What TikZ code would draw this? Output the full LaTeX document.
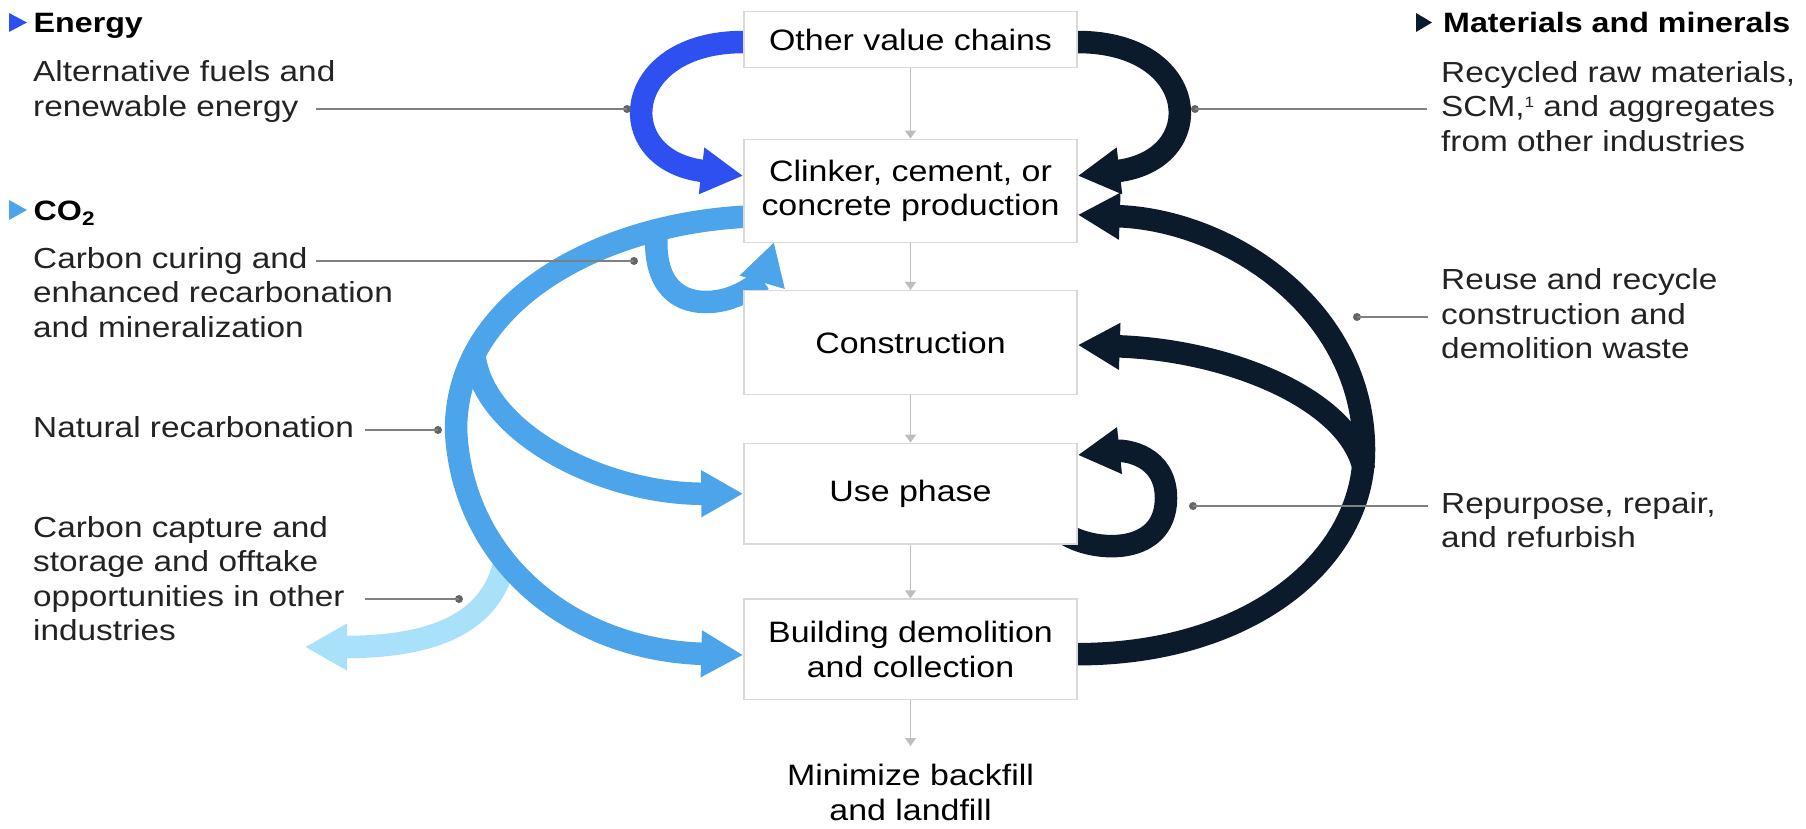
\documentclass[tikz,border=0pt]{standalone}
\usepackage{fontspec}
\setmainfont[FakeStretch=1.15]{Liberation Sans}
\usetikzlibrary{arrows.meta,backgrounds}
\definecolor{cEnergy}{RGB}{47,80,240}
\definecolor{cCO}{RGB}{76,164,234}
\definecolor{cCCS}{RGB}{170,225,250}
\definecolor{cNavy}{RGB}{12,27,43}
\definecolor{cBox}{RGB}{217,217,217}
\definecolor{cFlow}{RGB}{190,190,190}
\definecolor{cLead}{RGB}{128,128,128}
\definecolor{cDot}{RGB}{100,100,100}
\definecolor{cText}{RGB}{35,35,35}
\newcommand\mystrut{\rule{0pt}{22pt}}
\newcommand\lblfont{\fontsize{29}{34.5}\selectfont\color{cText}}
\newcommand\stagefont{\fontsize{29.5}{34.5}\selectfont}
\newcommand\ttlfont{\fontsize{28}{32}\selectfont\bfseries}
\newcommand\smallsup[1]{\raisebox{9pt}{\fontsize{15}{15}\selectfont #1}}
\begin{document}
\begin{tikzpicture}[x=1pt,y=-1pt,
  stage/.style={draw=cBox, line width=1.5pt, fill=white, minimum width=333pt, inner sep=0pt, align=center, font=\stagefont},
  flow/.style={draw=cFlow, line width=1.5pt, -{Triangle[length=8pt,width=11pt]}},
  band/.style={line width=22.5pt},
  bhead/.style={-{Triangle[length=42pt,width=44pt]}},
  leader/.style={draw=cLead, line width=1.5pt},
  ldot/.style={circle, fill=cDot, inner sep=0pt, minimum size=8pt},
  lbl/.style={anchor=north west, inner sep=0pt, align=left, font=\lblfont},
  ttl/.style={anchor=base west, inner sep=0pt, font=\ttlfont}]
\useasboundingbox (0,0) rectangle (1806,828);

% stages
\node[stage, minimum height=55.6pt] (ovc) at (910.5,39.5) {Other value chains};
\node[stage, minimum height=103pt] (clk) at (910.5,190.8) {Clinker, cement, or\\concrete production};
\node[stage, minimum height=103.6pt] (con) at (910.5,342.5) {Construction};
\node[stage, minimum height=100.7pt] (use) at (910.5,493.7) {Use phase};
\node[stage, minimum height=100.3pt] (bdc) at (910.5,649.2) {Building demolition\\and collection};
\node[anchor=north, inner sep=0pt, align=center, font=\stagefont] (min) at (910.5,763.5) {\mystrut Minimize backfill\\and landfill};
\coordinate (mtop) at (910.5,746);

\draw[flow] (ovc.south) -- (clk.north);
\draw[flow] (clk.south) -- (con.north);
\draw[flow] (con.south) -- (use.north);
\draw[flow] (use.south) -- (bdc.north);
\draw[flow] (bdc.south) -- (mtop);

\begin{pgfonlayer}{background}
% CCS light arrow
\draw[band, bhead, cCCS] (505,560) .. controls (492,625) and (430,647) .. (305,647);
% big CO2 arc
\draw[band, bhead, cCO] ([xshift=12pt,yshift=-26pt]clk.west) -- ([yshift=-26pt]clk.west)
   .. controls (600,225) and (456,300) .. (456,430)
   .. controls (462,560) and (570,650) .. ([yshift=-5.8pt]bdc.west);
% branch to use phase
\draw[band, bhead, cCO] (474,350) .. controls (478,430) and (600,494) .. (use.west);
% carbon curing curl
\draw[band, bhead, cCO] (657,228) .. controls (652,278) and (672,302) .. (706,302)
   .. controls (742,302) and (764,276) .. (774,242);
% energy
\draw[band, bhead, cEnergy] ([xshift=12pt,yshift=-2.5pt]ovc.west) -- ([yshift=-2.5pt]ovc.west)
   .. controls (620,42) and (610,160) .. ([yshift=15pt]clk.west);
% materials
\draw[band, bhead, cNavy] ([xshift=-12pt,yshift=-2.5pt]ovc.east) -- ([yshift=-2.5pt]ovc.east)
   .. controls (1201,42) and (1211,160) .. ([yshift=15pt]clk.east);
% big dark arc
\draw[band, bhead, cNavy] ([xshift=-12pt,yshift=-5pt]bdc.east) -- ([yshift=-5pt]bdc.east)
   .. controls (1250,654) and (1364,560) .. (1364,450)
   .. controls (1364,310) and (1230,220) .. ([yshift=-24pt]clk.east);
% branch to construction
\draw[band, bhead, cNavy] (1364,470) .. controls (1350,400) and (1230,350) .. ([yshift=-2.5pt]con.east);
% repurpose loop
\draw[band, bhead, cNavy] (1060,530) .. controls (1085,552) and (1166,560) .. (1166,498)
   .. controls (1166,455) and (1125,450) .. ([yshift=38.7pt]use.east);
\end{pgfonlayer}

% titles
\fill[cEnergy] (9,13) -- (9,32) -- (27,22.5) -- cycle;
\node[ttl] (tEnergy) at (33.5,32) {Energy};
\fill[cCO] (9,200) -- (9,220) -- (27,210) -- cycle;
\node[ttl] (tCO) at (33.5,220) {CO\textsubscript{2}};
\fill[cNavy] (1416,13) -- (1416,32) -- (1432,22.5) -- cycle;
\node[ttl] (tMat) at (1443,32) {Materials and minerals};

% labels
\node[lbl] (lEnergy) at (33,59.5) {\mystrut Alternative fuels and\\renewable energy};
\node[lbl] (lCuring) at (33,246) {\mystrut Carbon curing and\\enhanced recarbonation\\and mineralization};
\node[lbl] (lNatural) at (33,415) {\mystrut Natural recarbonation};
\node[lbl] (lCCS) at (33,515) {\mystrut Carbon capture and\\storage and offtake\\opportunities in other\\industries};
\node[lbl] (lRecycled) at (1441,60) {\mystrut Recycled raw materials,\\SCM,\smallsup{1} and aggregates\\from other industries};
\node[lbl] (lReuse) at (1441,267.5) {\mystrut Reuse and recycle\\construction and\\demolition waste};
\node[lbl] (lRepurpose) at (1441,491) {\mystrut Repurpose, repair,\\and refurbish};

% leaders
\node[ldot] (dEnergy) at (627,109) {};
\node[ldot] (dMat) at (1195,109) {};
\node[ldot] (dCuring) at (634,261) {};
\node[ldot] (dNatural) at (438,430) {};
\node[ldot] (dCCS) at (459,599) {};
\node[ldot] (dReuse) at (1357,317) {};
\node[ldot] (dRepurpose) at (1193,506) {};
\coordinate (eEnergy) at (316,109);
\coordinate (eCuring) at (316,261);
\coordinate (eNatural) at (365,430);
\coordinate (eCCS) at (365,599);
\coordinate (eMat) at (1427,109);
\coordinate (eReuse) at (1428,317);
\coordinate (eRepurpose) at (1428,506);
\draw[leader] (eEnergy) -- (dEnergy.center);
\draw[leader] (eCuring) -- (dCuring.center);
\draw[leader] (eNatural) -- (dNatural.center);
\draw[leader] (eCCS) -- (dCCS.center);
\draw[leader] (eMat) -- (dMat.center);
\draw[leader] (eReuse) -- (dReuse.center);
\draw[leader] (eRepurpose) -- (dRepurpose.center);
\end{tikzpicture}
\end{document}
